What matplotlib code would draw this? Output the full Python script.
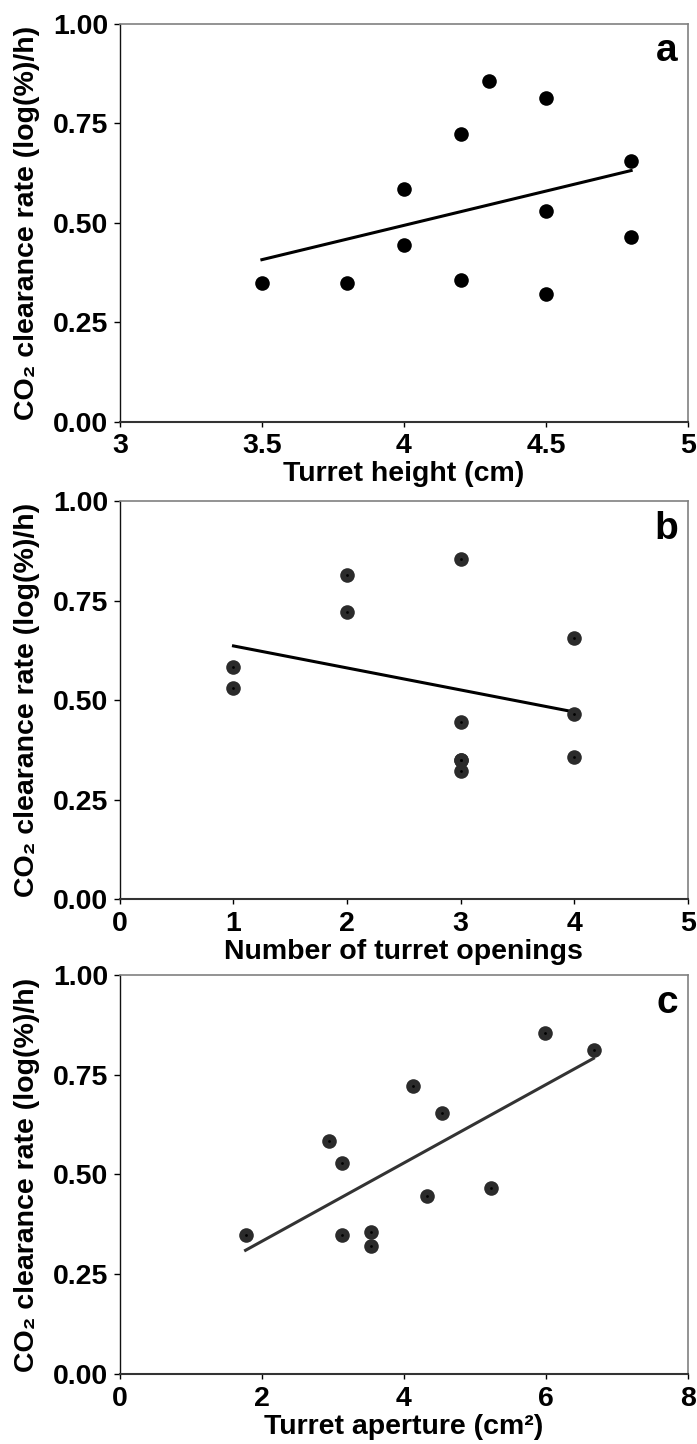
import matplotlib
matplotlib.use('Agg')
import matplotlib.pyplot as plt

plt.rcParams['font.family'] = ['Liberation Sans', 'DejaVu Sans']
plt.rcParams['font.weight'] = 'bold'

# CO2 clearance rate (log(%)/h), same 12 turrets in every panel
rate = [0.349, 0.349, 0.584, 0.445, 0.722, 0.357, 0.855, 0.813, 0.530, 0.321, 0.655, 0.465]

height = [3.5, 3.8, 4.0, 4.0, 4.2, 4.2, 4.3, 4.5, 4.5, 4.5, 4.8, 4.8]
openings = [3, 3, 1, 3, 2, 4, 3, 2, 1, 3, 4, 4]
aperture = [1.77, 3.13, 2.94, 4.33, 4.13, 3.54, 5.98, 6.68, 3.13, 3.54, 4.53, 5.23]

# regression lines as drawn (x ends, y ends)
fit_a_x = [3.5, 4.8]
fit_a_y = [0.407, 0.631]
fit_b_x = [1, 4]
fit_b_y = [0.636, 0.470]
fit_c_x = [1.77, 6.67]
fit_c_y = [0.310, 0.791]

xticks_a = [3, 3.5, 4, 4.5, 5]
xticks_b = [0, 1, 2, 3, 4, 5]
xticks_c = [0, 2, 4, 6, 8]
yticks = [0.0, 0.25, 0.5, 0.75, 1.0]


def style_axes(ax, xticks, xlabel, letter):
    ax.set_ylim(0, 1)
    ax.set_xlim(xticks[0], xticks[-1])
    ax.set_yticks(yticks)
    ax.set_yticklabels(['%.2f' % v for v in yticks])
    ax.set_xticks(xticks)
    ax.set_xticklabels(['%g' % v for v in xticks])
    ax.tick_params(direction='out', width=1, labelsize=20.5, colors='black')
    ax.tick_params(axis='y', length=4.3, pad=4.3)
    ax.tick_params(axis='x', length=3.6, pad=4.8)
    for s in ['top', 'right']:
        ax.spines[s].set_color('#808080')
        ax.spines[s].set_linewidth(1.2)
    ax.spines['left'].set_color('#111111')
    ax.spines['bottom'].set_color('#333333')
    ax.spines['left'].set_linewidth(1.0)
    ax.spines['bottom'].set_linewidth(1.5)
    ax.set_xlabel(xlabel, fontsize=20.5, fontweight='bold', labelpad=1.5)
    ax.set_ylabel('CO\u2082 clearance rate (log(%)/h)', fontsize=20.5, fontweight='bold')
    ax.yaxis.set_label_coords(-0.14, 0.5)
    ax.text(0.982, 0.905, letter, transform=ax.transAxes, ha='right', va='baseline',
            fontsize=28, fontweight='bold')


fig = plt.figure(figsize=(6.97, 14.44), dpi=100)

ax1 = fig.add_axes([0.172, 0.708, 0.815, 0.2756])
ax1.plot(fit_a_x, fit_a_y, color='black', lw=2.2)
ax1.plot(height, rate, 'o', color='black', ms=10.5, mec='none')
style_axes(ax1, xticks_a, 'Turret height (cm)', 'a')

ax2 = fig.add_axes([0.172, 0.3774, 0.815, 0.2756])
ax2.plot(fit_b_x, fit_b_y, color='black', lw=2.2)
ax2.plot(openings, rate, 'o', color='#2b2b2b', ms=10.5, mec='none')
ax2.plot(openings, rate, 'o', color='black', ms=2, mec='none')
style_axes(ax2, xticks_b, 'Number of turret openings', 'b')

ax3 = fig.add_axes([0.172, 0.0485, 0.815, 0.2763])
ax3.plot(fit_c_x, fit_c_y, color='#333333', lw=2.2)
ax3.plot(aperture, rate, 'o', color='#2b2b2b', ms=10.5, mec='none')
ax3.plot(aperture, rate, 'o', color='black', ms=2, mec='none')
style_axes(ax3, xticks_c, 'Turret aperture (cm\u00b2)', 'c')

fig.savefig('out.png', dpi=100)
